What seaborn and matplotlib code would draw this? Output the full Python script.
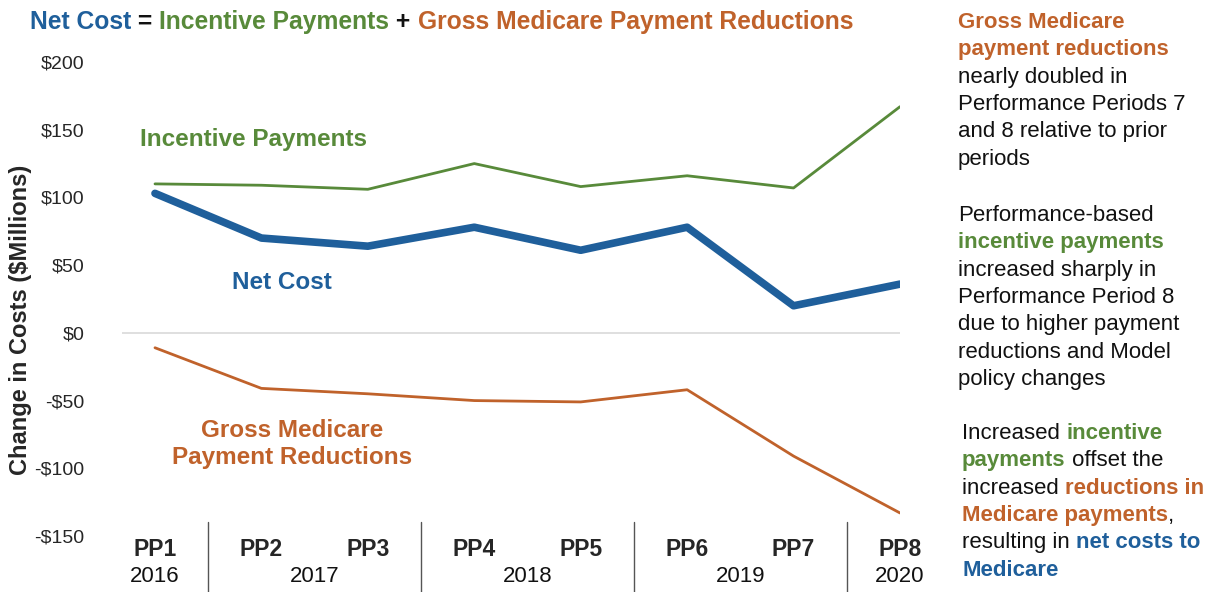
import pandas as pd
import matplotlib.pyplot as plt
import seaborn as sns

# data ($ millions)
periods = ["PP1", "PP2", "PP3", "PP4", "PP5", "PP6", "PP7", "PP8"]
incentive = [110, 109, 106, 125, 108, 116, 107, 167]
net_cost = [103, 70, 64, 78, 61, 78, 20, 36]
reductions = [-11, -41, -45, -50, -51, -42, -91, -133]
years = ["2016", "2017", "2018", "2019", "2020"]
year_pos = [0, 1.5, 3.5, 5.5, 7]
yticks = [-150, -100, -50, 0, 50, 100, 150, 200]

blue = "#1F5F9B"
green = "#588A3A"
orange = "#C0622B"

sns.set_theme(style="white")
plt.rcParams['font.family'] = ['Liberation Sans', 'DejaVu Sans']
narrow = ['Liberation Sans Narrow', 'Liberation Sans', 'DejaVu Sans']

df = pd.DataFrame({"period": periods, "incentive": incentive,
                   "net": net_cost, "reductions": reductions})

fig = plt.figure(figsize=(12.19, 5.92), dpi=100)
ax = fig.add_axes([122 / 1219, 1 - 536 / 592, (900 - 122) / 1219, (536 - 62) / 592])

ax.axhline(0, color="#d9d9d9", lw=1.2, zorder=0)
sns.lineplot(data=df, x="period", y="incentive", color=green, lw=2.0, ax=ax, sort=False)
sns.lineplot(data=df, x="period", y="reductions", color=orange, lw=2.0, ax=ax, sort=False)
sns.lineplot(data=df, x="period", y="net", color=blue, lw=5.5, ax=ax, sort=False,
             solid_capstyle="round")

ax.set_xlim(-0.31, 7.0)
ax.set_ylim(-150, 200)
ax.set_yticks(yticks)
ax.set_yticklabels([f"${v}" if v >= 0 else f"-${-v}" for v in yticks], fontsize=14)
ax.tick_params(axis="y", length=0, pad=27)
ax.set_xticks([])
ax.set_xlabel("")
ax.set_ylabel("Change in Costs ($Millions)", fontsize=17, fontweight="bold")
ax.yaxis.set_label_coords(-0.116, 0.456)
sns.despine(ax=ax, left=True, bottom=True)

# inline series labels
ax.text(-0.14, 143, "Incentive Payments", color=green, fontsize=17.5, fontweight="bold",
        family=narrow, va="center")
ax.text(0.72, 37, "Net Cost", color=blue, fontsize=17.5, fontweight="bold",
        family=narrow, va="center")
ax.text(1.29, -82, "Gross Medicare\nPayment Reductions", color=orange, fontsize=17.5,
        fontweight="bold", family=narrow, va="center", ha="center", linespacing=1.2)

# category axis: PP labels, years, dividers
for i, p in enumerate(periods):
    ax.text(i, -160, p, ha="center", va="center", fontsize=16.5, fontweight="bold",
            family=narrow, clip_on=False)
for x, yr in zip(year_pos, years):
    ax.text(x, -180, yr, ha="center", va="center", fontsize=16, family=narrow,
            clip_on=False, color="#111111")
for x in [0.5, 2.5, 4.5, 6.5]:
    ax.plot([x, x], [-140, -195], color="#555555", lw=1.0, clip_on=False)

# rich text helper
renderer = fig.canvas.get_renderer()


def rich_line(x_px, base_px, segs, size=16, fam=None):
    x = x_px / 1219
    for s, c, w in segs:
        t = fig.text(x, 1 - base_px / 592, s, color=c, fontweight=w, fontsize=size,
                     va="baseline", ha="left", family=fam or plt.rcParams['font.family'])
        x += t.get_window_extent(renderer=renderer).width / fig.bbox.width


k = "#111111"
rich_line(30, 29, [("Net Cost", blue, "bold"), (" = ", k, "bold"),
                   ("Incentive Payments", green, "bold"), (" + ", k, "bold"),
                   ("Gross Medicare Payment Reductions", orange, "bold")],
          size=17.7, fam=narrow)

para1 = [
    [("Gross Medicare", orange, "bold")],
    [("payment reductions", orange, "bold")],
    [("nearly doubled in", k, "normal")],
    [("Performance Periods 7", k, "normal")],
    [("and 8 relative to prior", k, "normal")],
    [("periods", k, "normal")],
]
para2 = [
    [("Performance-based", k, "normal")],
    [("incentive payments", green, "bold")],
    [("increased sharply in", k, "normal")],
    [("Performance Period 8", k, "normal")],
    [("due to higher payment", k, "normal")],
    [("reductions and Model", k, "normal")],
    [("policy changes", k, "normal")],
]
para3 = [
    [("Increased ", k, "normal"), ("incentive", green, "bold")],
    [("payments", green, "bold"), (" offset the", k, "normal")],
    [("increased ", k, "normal"), ("reductions in", orange, "bold")],
    [("Medicare payments", orange, "bold"), (",", k, "normal")],
    [("resulting in ", k, "normal"), ("net costs to", blue, "bold")],
    [("Medicare", blue, "bold")],
]
for x0, y0, para in [(958, 28, para1), (958, 221, para2), (962, 439, para3)]:
    for j, segs in enumerate(para):
        rich_line(x0, y0 + j * 27.3, segs)

plt.savefig("out.png", dpi=100)
plt.close()
